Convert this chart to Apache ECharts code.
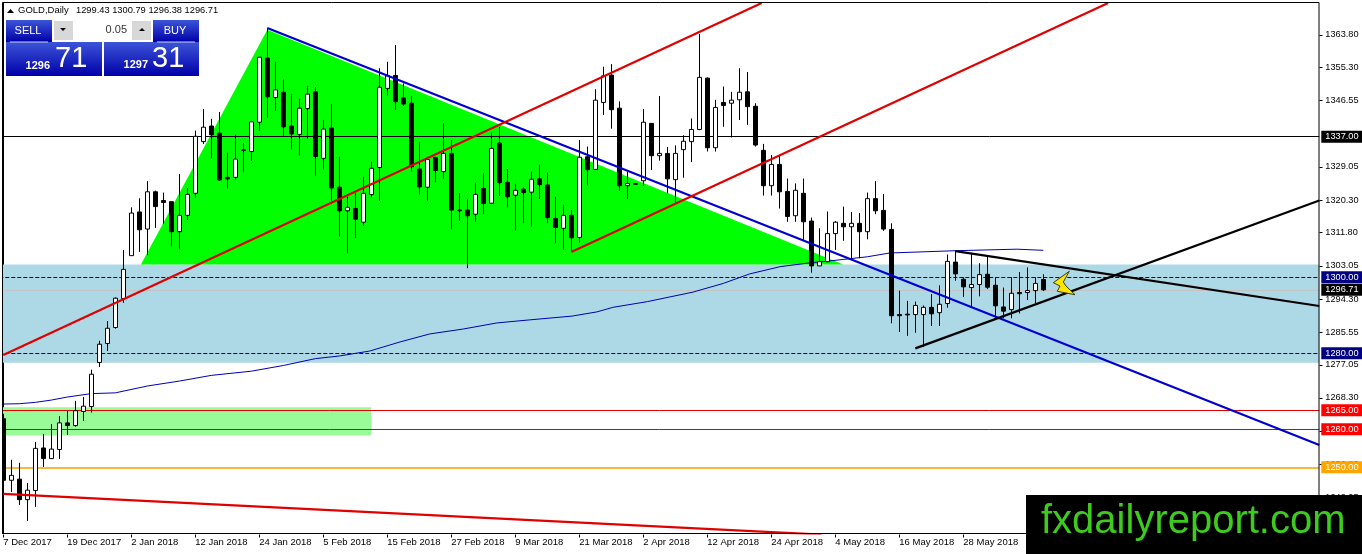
<!DOCTYPE html>
<html><head><meta charset="utf-8">
<style>html,body{margin:0;padding:0;background:#fff}#c{width:1362px;height:554px}</style>
<script src="https://cdn.jsdelivr.net/npm/echarts@6/dist/echarts.min.js"></script>
</head><body><div id="c"></div>
<script>
const tickLabels=['7 Dec 2017','19 Dec 2017','2 Jan 2018','12 Jan 2018','24 Jan 2018','5 Feb 2018','15 Feb 2018','27 Feb 2018','9 Mar 2018','21 Mar 2018','2 Apr 2018','12 Apr 2018','24 Apr 2018','4 May 2018','16 May 2018','28 May 2018'];
const priceTicks=[1363.80,1355.30,1346.55,1329.05,1320.30,1311.80,1303.05,1294.30,1285.55,1277.05,1268.30,1259.55,1250.80,1242.05];
const opens=[1262.8,1246.6,1246.9,1241.5,1243.9,1255.1,1252.3,1254.7,1261.7,1261.0,
1264.7,1266.0,1277.6,1282.6,1286.8,1294.4,1305.7,1317.2,1312.7,1322.5,
1320.2,1319.9,1312.0,1316.3,1322.1,1335.7,1339.8,1337.9,1326.3,1326.3,
1333.4,1333.1,1340.8,1357.7,1347.3,1348.7,1339.8,1337.6,1344.4,1348.8,
1331.3,1339.3,1323.7,1317.5,1318.1,1314.5,1321.8,1328.9,1349.7,1353.1,
1347.2,1345.8,1328.5,1323.7,1331.5,1327.8,1332.6,1317.7,1317.7,1316.6,
1323.4,1319.5,1335.3,1325.0,1321.6,1323.2,1322.4,1325.9,1324.3,1315.5,
1312.9,1316.3,1310.5,1331.7,1328.4,1346.0,1353.2,1344.5,1324.1,1324.6,
1325.4,1340.5,1332.0,1332.6,1325.7,1333.6,1335.7,1338.9,1352.4,1334.1,
1346.0,1345.8,1346.7,1348.8,1345.0,1333.4,1324.1,1329.7,1322.6,1316.2,
1322.1,1314.8,1303.0,1304.1,1311.5,1314.2,1313.3,1314.2,1312.0,1320.7,
1317.6,1312.6,1290.2,1290.3,1290.2,1290.2,1292.1,1290.7,1293.1,1304.0,
1299.5,1297.3,1298.1,1300.8,1297.9,1292.2,1291.5,1296.0,1296.0,1296.5,1299.43];
const closes=[1246.6,1247.9,1241.5,1244.0,1255.0,1252.3,1254.8,1261.7,1261.0,1264.9,
1266.1,1274.5,1282.4,1286.6,1294.5,1302.1,1316.9,1312.5,1322.5,1318.6,
1319.7,1312.0,1316.3,1321.8,1337.1,1339.5,1337.5,1325.6,1325.9,1331.1,
1333.5,1340.9,1357.9,1347.5,1349.3,1339.6,1337.7,1344.5,1348.2,1331.8,
1339.0,1323.5,1317.5,1318.4,1315.3,1322.1,1328.7,1350.0,1353.0,1346.2,
1345.6,1329.1,1323.8,1331.0,1328.1,1332.6,1317.7,1317.5,1316.2,1321.8,
1319.4,1333.9,1324.9,1321.2,1322.9,1322.3,1325.8,1324.4,1315.7,1313.1,
1316.3,1310.4,1331.6,1328.3,1346.6,1353.0,1344.1,1324.1,1324.7,1324.5,
1340.8,1332.0,1332.6,1325.9,1332.6,1335.8,1338.9,1352.6,1334.1,1344.7,
1345.2,1346.6,1348.7,1344.9,1334.8,1324.1,1329.7,1322.5,1316.0,1322.9,
1314.6,1303.0,1304.1,1311.5,1314.5,1313.3,1314.2,1312.0,1320.7,1317.5,
1312.7,1289.9,1289.9,1290.1,1292.6,1292.1,1290.4,1292.9,1304.2,1300.9,
1297.5,1298.1,1300.7,1297.4,1292.5,1291.1,1295.8,1295.7,1296.5,1298.4,1296.71];
const lows=[1243.1,1243.5,1240.1,1235.9,1239.6,1250.1,1252.3,1252.2,1258.5,1260.7,
1262.2,1264.4,1276.4,1280.6,1286.5,1293.3,1305.7,1306.7,1305.8,1313.0,
1314.1,1308.1,1307.4,1315.1,1320.9,1335.1,1331.3,1325.4,1323.4,1325.6,
1327.7,1330.6,1338.5,1342.0,1343.8,1336.9,1333.7,1332.0,1336.5,1326.7,
1328.3,1319.9,1310.7,1306.3,1310.3,1313.5,1321.0,1320.1,1347.8,1344.0,
1345.1,1327.8,1321.7,1320.1,1325.0,1325.9,1312.6,1314.8,1302.4,1314.6,
1316.6,1319.5,1321.4,1318.3,1312.3,1314.2,1313.3,1320.6,1314.2,1308.9,
1307.2,1306.7,1309.1,1324.1,1328.4,1342.7,1339.1,1322.7,1320.6,1324.4,
1324.0,1328.2,1330.7,1322.1,1319.5,1326.2,1330.3,1338.7,1333.1,1333.1,
1339.6,1336.8,1341.4,1340.1,1334.4,1321.5,1321.5,1318.1,1314.6,1314.6,
1309.8,1301.2,1303.0,1304.1,1307.2,1309.6,1305.0,1305.0,1310.0,1316.6,
1312.2,1287.9,1285.6,1284.6,1285.4,1281.7,1287.2,1287.2,1292.0,1299.1,
1294.8,1292.2,1295.0,1296.9,1289.2,1289.2,1289.2,1290.5,1294.0,1293.1,1296.38];
const highs=[1264.1,1252.0,1251.2,1245.9,1256.7,1258.8,1261.4,1263.5,1264.8,1267.5,
1268.5,1275.7,1283.3,1288.5,1294.7,1307.2,1318.4,1320.8,1325.3,1322.8,
1322.3,1319.9,1327.2,1323.5,1338.6,1344.3,1341.7,1343.5,1332.8,1337.6,
1335.3,1340.9,1357.9,1365.5,1356.7,1352.0,1348.3,1347.0,1350.4,1350.0,
1341.4,1345.6,1331.7,1321.2,1322.1,1326.5,1330.4,1355.0,1356.7,1361.1,
1351.0,1347.7,1335.7,1331.7,1331.7,1340.5,1336.1,1322.1,1320.6,1324.9,
1327.4,1338.1,1339.6,1328.5,1324.6,1323.7,1327.8,1329.6,1327.5,1321.2,
1319.0,1317.7,1336.1,1334.4,1349.5,1355.4,1356.1,1346.3,1327.8,1324.7,
1344.3,1340.5,1347.7,1334.3,1334.7,1337.4,1341.8,1364.0,1352.6,1346.7,
1350.2,1348.8,1355.0,1354.0,1345.8,1335.1,1332.2,1331.9,1326.0,1324.7,
1326.0,1315.7,1312.9,1317.3,1314.8,1318.6,1317.2,1316.9,1322.3,1325.3,
1321.9,1314.2,1296.5,1293.8,1293.6,1292.6,1295.6,1297.9,1306.0,1306.9,
1300.0,1306.4,1303.7,1305.6,1300.0,1297.3,1300.0,1301.4,1302.6,1300.0,1300.79];
const maPoints=[[0,1266.66],[2,1266.74],[4,1267.1],[6,1267.7],[8,1268.5],[11,1269.4],[14,1269.6],[18,1271.4],[22,1272.7],[26,1274.2],[31,1275.3],[35,1276.8],[39,1278.6],[42,1279.3],[45.8,1280.6],[49.6,1283.0],[53.3,1285.1],[57.5,1286.4],[61.7,1288.0],[65.8,1288.8],[71.1,1289.8],[74.2,1290.9],[76.2,1292.1],[80.5,1293.6],[86.2,1296.1],[90,1298.4],[93.3,1300.9],[97.1,1302.8],[100.8,1303.8],[103.7,1304.4],[108,1305.4],[110.8,1306.4],[119,1307.0],[126.7,1307.4],[130,1307.1]];
const blueTrend=[[33,1365.6],[164.5,1255.9]];
const redUpper=[[0,1279.55],[94.8,1372.2]];
const redLower=[[71,1306.66],[138.1,1372.2]];
const redBottom=[[0,1243.0],[102.3,1232.3]];
const blackUpper=[[119,1306.9],[164.5,1292.45]];
const blackLower=[[114,1281.3],[164.5,1320.2]];
const triangle=[[17.2,1303.4],[33,1365.1],[105,1303.4]];
const blueZone=[[-0.5,1303.4],[164.5,1277.5]];
const greenZone=[[-0.5,1265.8],[46,1258.4]];
const levels=[1337,1300,1296.71,1280,1265,1260,1250];
const levelColors=['#000000','#000080','#c4c4c4','#000080','#e00000','#e00000','#f5a000'];
const levelLabelBg=['#000000','#000080','#000000','#000080','#ff0000','#ff0000','#ffa500'];
const levelDash=['solid','dashed','solid','dashed','solid','solid','solid'];
const levelWidth=[1,1,1,1,1,1,1.5];

const FONT='"Liberation Sans"';
const nCat=165, yMin=1232.6, yMax=1372.3;
const categories=Array.from({length:nCat},(_,i)=>(i%8===0&&tickLabels[i/8])||'');
const candles=opens.map((o,i)=>[o,closes[i],lows[i],highs[i]]);
const dateTickIdx=tickLabels.map((_,i)=>i*8);
function trend(name,data,color){
  return {name,type:'line',xAxisIndex:1,yAxisIndex:0,data,showSymbol:false,symbol:'none',silent:true,z:6,
    lineStyle:{color,width:2.2},animation:false};
}
function polyItem(points,fill){
  return {type:'custom',xAxisIndex:1,yAxisIndex:0,z:1,silent:true,animation:false,data:[0],
    clip:true,
    renderItem:(p,api)=>({type:'polygon',shape:{points:points.map(q=>api.coord(q))},style:{fill}})};
}
function rectPts(r){return [[r[0][0],r[0][1]],[r[1][0],r[0][1]],[r[1][0],r[1][1]],[r[0][0],r[1][1]]];}
function tickMarks(values,toCoord,dx,dy){
  return {type:'custom',xAxisIndex:1,yAxisIndex:0,z:2,silent:true,animation:false,clip:false,
    data:values,renderItem:(p,api)=>{const c=api.coord(toCoord(api.value(0)));
      const x=Math.round(c[0])+0.5,y=Math.round(c[1])+0.5;
      return {type:'line',shape:{x1:x,y1:y,x2:x+dx,y2:y+dy},style:{stroke:'#000',lineWidth:1}};}};
}

const chart=echarts.init(document.getElementById('c'),null,{renderer:'canvas'});
const txtF=(x,y,text,font,color,align)=>({type:'text',z:200,silent:true,x,y,style:{text,x:0,y:0,fill:color,font,textAlign:align||'left',textVerticalAlign:'middle'}});
const txt=(x,y,text,size,color,align)=>txtF(x,y,text,size+'px '+FONT,color,align);
const blueGrad=new echarts.graphic.LinearGradient(0,0,0,1,[{offset:0,color:'#3c55d8'},{offset:1,color:'#0000a8'}]);
const rect=(x,y,w,h,fill,z,extra)=>Object.assign({type:'rect',z:z||200,silent:true,shape:{x,y,width:w,height:h},style:{fill}},extra||{});
chart.setOption({
  animation:false,
  backgroundColor:'#ffffff',
  textStyle:{fontFamily:FONT},
  grid:{left:-0.7,top:2.5,width:nCat*8,height:531,containLabel:false,outerBoundsMode:'none'},
  xAxis:[
   {type:'category',data:categories,boundaryGap:true,
    axisLine:{lineStyle:{color:'#000',width:1}},
    axisTick:{show:false},
    axisLabel:{interval:7,align:'left',color:'#000',fontSize:9.5,fontFamily:FONT,margin:4,hideOverlap:false},
    splitLine:{show:false}},
   {type:'value',min:-0.5,max:164.5,show:false,splitLine:{show:false}}
  ],
  yAxis:[{type:'value',position:'right',min:yMin,max:yMax,scale:true,
    axisLine:{show:true,lineStyle:{color:'#000',width:1}},
    axisTick:{show:false},
    axisLabel:{customValues:priceTicks,margin:6,color:'#000',fontSize:9.2,fontFamily:FONT,formatter:v=>v.toFixed(2)},
    splitLine:{show:false}}],
  series:[
    polyItem(rectPts(blueZone),'#add8e6'),
    polyItem(rectPts(greenZone),'#98fb98'),
    polyItem(triangle,'#00ff00'),
    tickMarks(priceTicks,v=>[164.5,v],3,0),
    tickMarks(dateTickIdx,v=>[v,yMin],0,3),
    {name:'levels',type:'line',xAxisIndex:1,yAxisIndex:0,data:[],z:3,silent:true,
     markLine:{silent:true,symbol:'none',animation:false,z:3,precision:2,
      data:levels.map((v,i)=>({yAxis:v,
        lineStyle:{color:levelColors[i],type:levelDash[i],width:levelWidth[i]},
        label:{show:true,position:'end',distance:2,formatter:()=>v.toFixed(2),color:'#fff',fontSize:9.2,fontFamily:FONT,
          backgroundColor:levelLabelBg[i],width:37,height:12,lineHeight:12,align:'left',verticalAlign:'middle',padding:[0,0,0,4]}}))}},
    {name:'MA',type:'line',xAxisIndex:1,yAxisIndex:0,data:maPoints,showSymbol:false,symbol:'none',silent:true,z:3,
      lineStyle:{color:'#0000b0',width:1},animation:false},
    {name:'GOLD',type:'candlestick',xAxisIndex:0,yAxisIndex:0,data:candles,barWidth:4,z:5,silent:true,animation:false,
      itemStyle:{color:'#ffffff',color0:'#000000',borderColor:'#000000',borderColor0:'#000000',borderWidth:1}},
    trend('blueTrend',blueTrend,'#0000cd'),
    trend('redUpper',redUpper,'#e00000'),
    trend('redLower',redLower,'#e00000'),
    trend('redBottom',redBottom,'#e00000'),
    trend('blackUpper',blackUpper,'#000000'),
    trend('blackLower',blackLower,'#000000')
  ],
  graphic:[
    rect(0,0,2,534,'#fff',150),
    {type:'rect',z:150,silent:true,shape:{x:2.5,y:2.5,width:1316.5,height:531},style:{fill:null,stroke:'#000',lineWidth:1}},
    {type:'polygon',z:120,silent:true,shape:{points:[[1069.3,271.3],[1053.3,282.7],[1060,286],[1057.3,291.3],[1075,294.7],[1066,286],[1063.3,282]]},style:{fill:'#ffe600',stroke:'#3a3a10',lineWidth:1}},
    rect(1026,495,336,59,'#000',190),
    txtF(1041,522,'fxdailyreport.com','40px "Liberation Sans"','#3ccb1e','left'),
    {type:'polygon',z:200,silent:true,shape:{points:[[7,13],[14,13],[10.5,9]]},style:{fill:'#000'}},
    txt(18,10.5,'GOLD,Daily',9.5,'#000'),
    txt(76,10.5,'1299.43 1300.79 1296.38 1296.71',9.3,'#000'),
    rect(6,20,46,22,blueGrad),
    rect(153,20,46,22,blueGrad),
    rect(52,20,101,22,'#ffffff'),
    rect(54,21,19,19,'#d8d8d8'),
    rect(132,21,19,19,'#d8d8d8'),
    {type:'polygon',z:201,silent:true,shape:{points:[[60,28],[66,28],[63,31]]},style:{fill:'#000'}},
    {type:'polygon',z:201,silent:true,shape:{points:[[139,31],[145,31],[142,28]]},style:{fill:'#000'}},
    txt(127,30,'0.05',11,'#333','right'),
    rect(6,42,96,34,blueGrad),
    rect(104,42,95,34,blueGrad),
    rect(10,41.5,38,1,'#c8d0f0',201),
    rect(157,41.5,38,1,'#c8d0f0',201),
    txt(28,31,'SELL',11,'#fff','center'),
    txt(175,31,'BUY',11,'#fff','center'),
    txtF(50,66,'1296','bold 11px "Liberation Sans"','#fff','right'),
    txt(55,59,'71',29,'#fff','left'),
    txtF(148,65,'1297','bold 11px "Liberation Sans"','#fff','right'),
    txt(152,59,'31',29,'#fff','left')
  ]
});
</script></body></html>
